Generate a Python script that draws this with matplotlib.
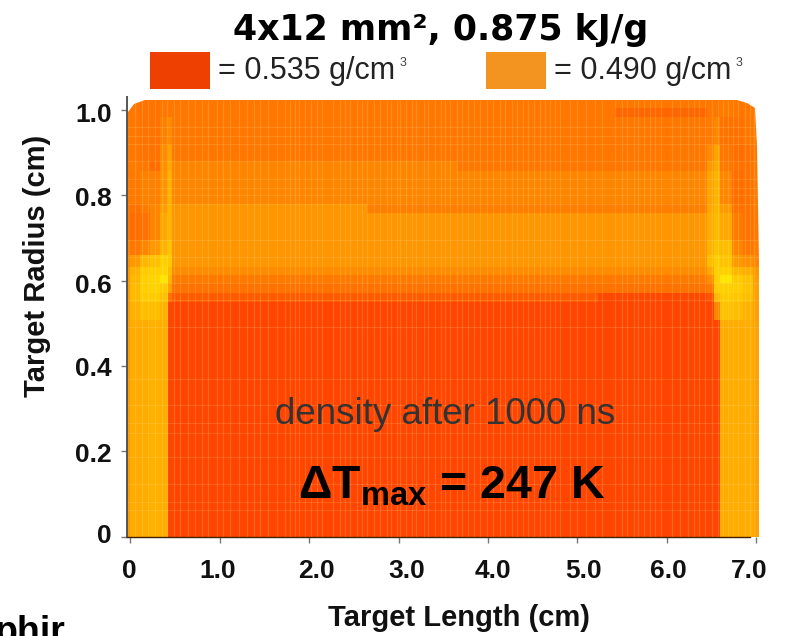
import numpy as np
import matplotlib
matplotlib.use("Agg")
import matplotlib.pyplot as plt
from matplotlib.colors import LinearSegmentedColormap
from matplotlib.patches import Polygon, Rectangle
from matplotlib.transforms import ScaledTranslation

plt.rcParams['font.family'] = ['Liberation Sans', 'DejaVu Sans']
plt.rcParams['mathtext.fontset'] = 'custom'
plt.rcParams['mathtext.bf'] = 'Liberation Sans:bold'
plt.rcParams['mathtext.rm'] = 'Liberation Sans'

# cell edges (cm)
length_edges = [-0.037, 0.0, 0.11, 0.22, 0.33, 0.42, 0.466, 2.65, 3.65, 5.23, 5.42,
                6.45, 6.53, 6.60, 6.73, 6.85, 6.96, 7.04]
radius_edges = [1.023, 1.005, 0.984, 0.918, 0.880, 0.857, 0.780, 0.758, 0.695, 0.660,
                0.632, 0.613, 0.594, 0.571, 0.550, 0.508, 0.0]

# density g/cm3, rows from the top of the target down
density = [
    [.507, .507, .510, .510, .507, .507, .507, .507, .507, .507, .507, .507, .507, .505, .507, .507, .507],
    [.507, .507, .510, .510, .507, .507, .507, .507, .507, .507, .516, .507, .507, .505, .507, .507, .507],
    [.505, .507, .510, .510, .503, .497, .507, .507, .507, .507, .507, .505, .500, .510, .510, .508, .505],
    [.505, .507, .510, .510, .497, .486, .507, .507, .507, .507, .507, .497, .486, .508, .512, .510, .506],
    [.505, .505, .508, .512, .495, .482, .500, .500, .507, .507, .507, .490, .482, .506, .510, .510, .506],
    [.505, .506, .503, .503, .493, .478, .500, .500, .500, .500, .500, .484, .477, .500, .512, .510, .506],
    [.505, .510, .505, .500, .488, .477, .492, .504, .504, .504, .504, .482, .476, .490, .510, .510, .506],
    [.505, .512, .510, .500, .483, .476, .492, .492, .492, .492, .492, .480, .474, .482, .505, .510, .506],
    [.500, .508, .500, .490, .477, .470, .492, .492, .492, .492, .492, .477, .469, .472, .500, .508, .504],
    [.495, .490, .475, .470, .462, .466, .492, .492, .492, .492, .492, .472, .464, .468, .490, .495, .500],
    [.490, .478, .465, .463, .460, .472, .497, .497, .497, .497, .497, .482, .462, .462, .475, .480, .490],
    [.490, .475, .463, .460, .452, .477, .506, .506, .506, .506, .506, .495, .463, .452, .465, .470, .488],
    [.490, .474, .463, .461, .465, .487, .510, .510, .510, .510, .510, .505, .465, .462, .464, .470, .487],
    [.490, .474, .465, .465, .470, .510, .522, .522, .522, .531, .531, .525, .475, .465, .467, .472, .487],
    [.490, .478, .472, .472, .478, .531, .5325, .5325, .5325, .5325, .5325, .532, .500, .470, .472, .478, .487],
    [.488, .481, .481, .478, .480, .532, .5325, .5325, .5325, .5325, .5325, .532, .532, .481, .481, .480, .485],
]

# outline of the target
outline_length = [-0.037, -0.037, -0.03, 0.04, 0.165, 6.79, 6.90, 6.99, 7.01, 7.03, 7.03]
outline_radius = [0.0, 0.97, 0.995, 1.014, 1.023, 1.023, 1.016, 1.005, 0.918, 0.644, 0.0]

# simulation mesh lines
mesh_length = [0.05, 0.13, 0.20, 0.28, 0.35, 0.41, 0.49, 0.56, 0.64, 0.72, 0.80, 0.87, 0.97, 1.04,
               1.12, 1.21, 1.30, 1.38, 1.45, 1.54, 1.64, 1.73, 1.79, 1.84, 1.89, 1.95, 2.02, 2.09,
               2.14, 2.27, 2.34, 2.40, 2.46, 2.53, 2.59, 2.65, 2.72, 2.79, 2.87, 2.92, 2.98, 3.02,
               3.08, 3.15, 3.20, 3.28, 3.33, 3.41, 3.47, 3.52, 3.58, 3.65, 3.71, 3.78, 3.84, 3.91,
               3.99, 4.06, 4.13, 4.19, 4.27, 4.33, 4.39, 4.45, 4.51, 4.58, 4.64, 4.69, 4.75, 4.81,
               4.92, 4.99, 5.10, 5.20, 5.27, 5.42, 5.50, 5.55, 5.63, 5.68, 5.75, 5.81, 5.87, 5.94,
               6.06, 6.15, 6.24, 6.30, 6.36, 6.43, 6.50, 6.57, 6.63, 6.68, 6.74, 6.80, 6.87, 6.93, 6.98]
mesh_radius = [.960, .939, .920, .880, .838, .817, .801, .780, .695, .655, .594, .555, .491,
               .369, .308, .266, .243, .186, .123, .081, .062]

x_ticks = [0, 1, 2, 3, 4, 5, 6, 7]
x_tick_labels = ['0', '1.0', '2.0', '3.0', '4.0', '5.0', '6.0', '7.0']
x_label_shift = [-1, -2, 7, 8, 5, 6, 2, -6.6]
y_ticks = [0, 0.2, 0.4, 0.6, 0.8, 1.0]
y_tick_labels = ['0', '0.2', '0.4', '0.6', '0.8', '1.0']
y_label_shift = [3, -1, -1, -3, -1, -3]

legend_colors = ['#EE4000', '#F39420']
legend_labels = ['= 0.535 g/cm', '= 0.490 g/cm']

W, H = 785, 636


def fx(px):
    return px / W


def fy(py):
    return 1 - py / H


fig = plt.figure(figsize=(7.85, 6.36), dpi=100)
ax = fig.add_axes([fx(127), fy(536.5), (761.6 - 127) / W, (536.5 - 97.2) / H])

cmap = LinearSegmentedColormap.from_list('dens', ['#FFE800', '#FF3600'])
mesh = ax.pcolormesh(length_edges, radius_edges, np.array(density), cmap=cmap, vmin=0.45, vmax=0.54,
                     shading='flat', linewidth=0, rasterized=True)
outline = Polygon(np.column_stack([outline_length, outline_radius]), closed=True,
                  transform=ax.transData, facecolor='none', edgecolor='none')
ax.add_patch(outline)
mesh.set_clip_path(outline)

v = ax.vlines(mesh_length, 0, 1.023, colors='#FFE9A0', alpha=0.2, linewidth=0.9)
h = ax.hlines(mesh_radius, -0.037, 7.03, colors='#FFE9A0', alpha=0.16, linewidth=0.8)
v.set_clip_path(outline)
h.set_clip_path(outline)

ax.set_xlim(-0.037, 7.06)
ax.set_ylim(0, 1.03)
for s in ['top', 'right']:
    ax.spines[s].set_visible(False)
ax.spines['left'].set_color('#555555')
ax.spines['left'].set_linewidth(1.4)
ax.spines['bottom'].set_color('#442200')
ax.spines['bottom'].set_linewidth(1.0)
ax.spines['bottom'].set_bounds(-0.037, 6.93)

ax.set_xticks(x_ticks)
ax.set_xticklabels(x_tick_labels, fontsize=19, fontweight='bold', color='#111111')
ax.set_yticks(y_ticks)
ax.set_yticklabels(y_tick_labels, fontsize=19, fontweight='bold', color='#111111')
ax.tick_params(axis='x', length=4, width=1, color='#777777', pad=12)
ax.tick_params(axis='y', length=4, width=1, color='#777777', pad=7)
for lab, dx in zip(ax.get_xticklabels(), x_label_shift):
    lab.set_transform(lab.get_transform() + ScaledTranslation(dx / 100, 0, fig.dpi_scale_trans))
for lab, dy in zip(ax.get_yticklabels(), y_label_shift):
    lab.set_transform(lab.get_transform() + ScaledTranslation(0, dy / 100, fig.dpi_scale_trans))

fig.text(fx(441), fy(30), '4x12 mm², 0.875 kJ/g', family='DejaVu Sans', fontweight='bold',
         fontsize=25, ha='center', va='center', color='black')

for i, (col, lab) in enumerate(zip(legend_colors, legend_labels)):
    x0 = [150, 486][i]
    fig.patches.append(Rectangle((fx(x0), fy(89)), 60 / W, 37 / H, transform=fig.transFigure,
                                 facecolor=col, edgecolor='none'))
    fig.text(fx(x0 + 68), fy(79), lab, fontsize=22, ha='left', va='baseline', color='#222222')
    fig.text(fx(x0 + 250), fy(66), '3', fontsize=9, ha='left', va='baseline', color='#444444')

fig.text(fx(445), fy(414), 'density after 1000 ns', fontsize=26.5, ha='center', va='center', color='#333333')
fig.text(fx(452), fy(498), r'$\mathbf{\Delta T_{max}}$ = 247 K', fontsize=33.5, fontweight='bold',
         ha='center', va='baseline', color='black')

fig.text(fx(37), fy(266), 'Target Radius (cm)', fontsize=21, fontweight='bold', rotation=90,
         ha='center', va='center', color='#111111')
fig.text(fx(459), fy(618), 'Target Length (cm)', fontsize=21, fontweight='bold',
         ha='center', va='center', color='#111111')
fig.text(fx(65), fy(643), 'phir', fontsize=27, fontweight='bold', ha='right', va='baseline', color='black')

fig.savefig('out.png', dpi=100)
